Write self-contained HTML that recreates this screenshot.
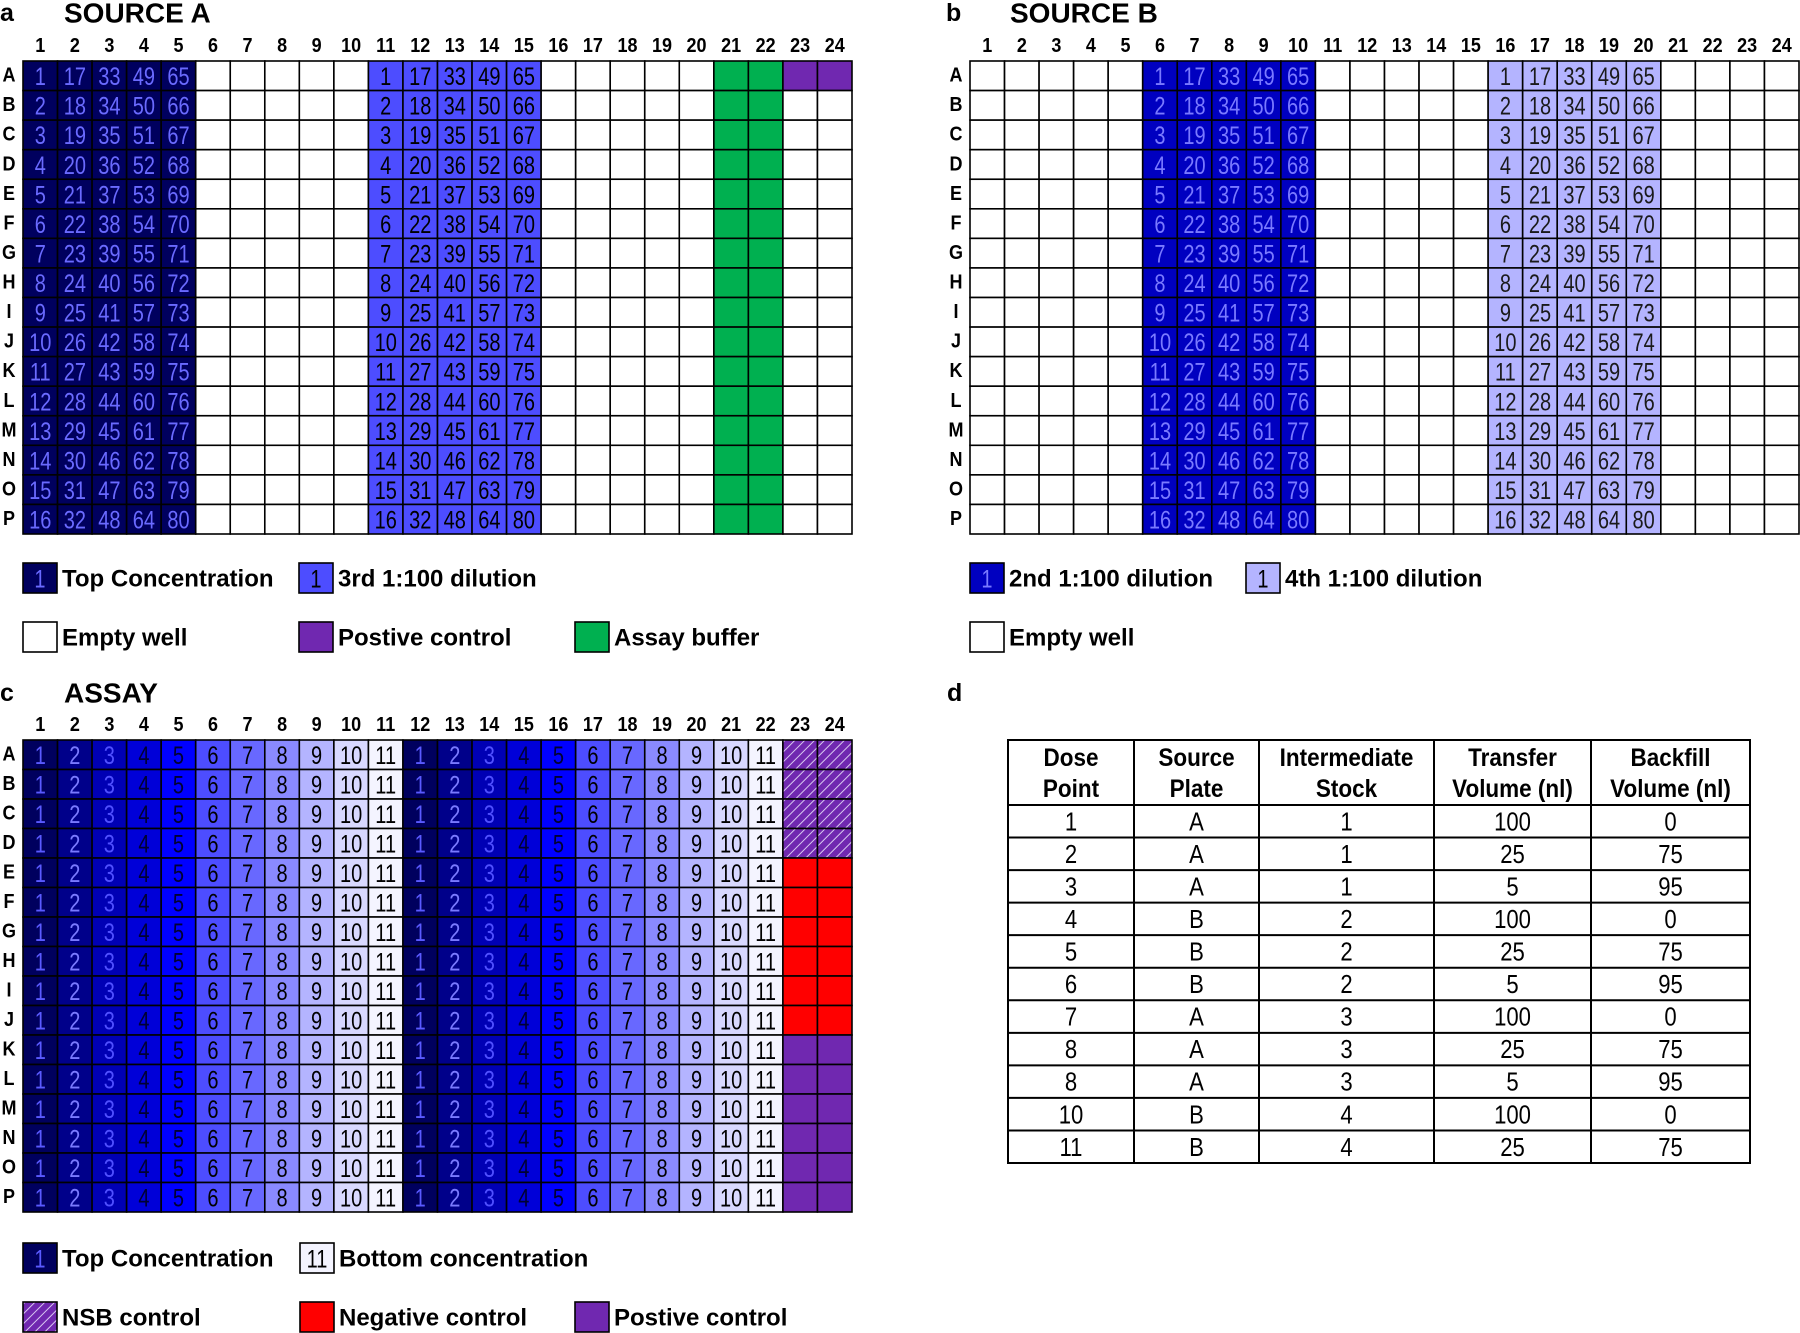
<!DOCTYPE html>
<html><head><meta charset="utf-8">
<style>
html,body{margin:0;padding:0;background:#fff;}
svg{display:block;font-family:"Liberation Sans",Arial,sans-serif;}
</style></head>
<body>
<svg id="fig" width="1800" height="1333" viewBox="0 0 1800 1333" xmlns="http://www.w3.org/2000/svg">
<defs>
<pattern id="hatch" patternUnits="userSpaceOnUse" width="7" height="7" patternTransform="rotate(45)">
<rect width="7" height="7" fill="#7028b0"/><line x1="0" y1="0" x2="0" y2="7" stroke="#d8c8f0" stroke-width="2"/>
</pattern>
</defs>
<g id="root"></g>
</svg>
<script>
// ---------- data ----------
const rowLabels = ["A","B","C","D","E","F","G","H","I","J","K","L","M","N","O","P"];
const colLabels = ["1","2","3","4","5","6","7","8","9","10","11","12","13","14","15","16","17","18","19","20","21","22","23","24"];
const sourceAColumnTypes = ["top","top","top","top","top","empty","empty","empty","empty","empty","dil3","dil3","dil3","dil3","dil3","empty","empty","empty","empty","empty","buffer","buffer","empty","empty"];
const sourceAPositiveWells = ["A23","A24"];
const sourceBColumnTypes = ["empty","empty","empty","empty","empty","dil2","dil2","dil2","dil2","dil2","empty","empty","empty","empty","empty","dil4","dil4","dil4","dil4","dil4","empty","empty","empty","empty"];
const compoundColumnStart = [1,17,33,49,65];
const assayDoses = [1,2,3,4,5,6,7,8,9,10,11,1,2,3,4,5,6,7,8,9,10,11];
const assayControlRows = ["nsb","nsb","nsb","nsb","neg","neg","neg","neg","neg","neg","pos","pos","pos","pos","pos","pos"];
const tableHeaders = [["Dose","Point"],["Source","Plate"],["Intermediate","Stock"],["Transfer","Volume (nl)"],["Backfill","Volume (nl)"]];
const dosePoints = ["1","2","3","4","5","6","7","8","8","10","11"];
const sourcePlates = ["A","A","A","B","B","B","A","A","A","B","B"];
const intermediateStocks = ["1","1","1","2","2","2","3","3","3","4","4"];
const transferVolumes = ["100","25","5","100","25","5","100","25","5","100","25"];
const backfillVolumes = ["0","75","95","0","75","95","0","75","95","0","75"];

// ---------- styles ----------
const typeFill = {top:"#00005e",dil3:"#4d4dff",dil2:"#0000c0",dil4:"#b4b4ff",buffer:"#00b050",pos:"#7028b0",neg:"#ff0000",nsb:"url(#hatch)",empty:"#ffffff"};
const typeText = {top:"#6a6aff",dil3:"#000000",dil2:"#7a7aff",dil4:"#1a1a1a"};
const doseFill = ["#00005e","#00008a","#0000b4","#0000d8","#0000ff","#4d4dff","#6868ff","#8a8aff","#b4b4ff","#d8d8ff","#f4f4ff"];
const doseText = ["#5a5aff","#7a7aff","#5050ff","#000033","#000033","#000000","#000000","#000000","#000000","#000000","#000000"];

const NS="http://www.w3.org/2000/svg";
const root=document.getElementById('root');
function mk(tag,attrs,parent){const e=document.createElementNS(NS,tag);for(const k in attrs)e.setAttribute(k,attrs[k]);(parent||root).appendChild(e);return e;}
function txt(str,x,y,size,weight,fill,parent,anchor,narrow){
  const t=mk('text',{x:0,y:0,'font-size':size,'font-weight':weight||'normal',fill:fill||'#000','text-anchor':anchor||'middle','dominant-baseline':'central',transform:`translate(${x},${y}) scale(${narrow||1},1)`},parent);
  t.textContent=str;return t;
}

function plate(x0,y0,w,h,cellFn,name){
  const g=mk('g',{});
  
  
  const cw=w/24,rh=h/16;
  colLabels.forEach((c,i)=>{const t=txt(c,x0+cw*(i+0.5),y0-15,20,'bold','#000',g,'middle',0.9);
    
    });
  rowLabels.forEach((r,j)=>{const t=txt(r,x0-14,y0+rh*(j+0.5),20,'bold','#000',g,'middle',0.9);
    
    });
  for(let j=0;j<16;j++)for(let i=0;i<24;i++){
    const c=cellFn(j,i);
    const r=mk('rect',{x:x0+cw*i,y:y0+rh*j,width:cw,height:rh,fill:c.fill,stroke:'#000','stroke-width':1.6},g);
    
    
    if(c.label){const t=txt(c.label,x0+cw*(i+0.5),y0+rh*(j+0.5)+1,25,'normal',c.color,g,'middle',0.8);
      
      }
  }
}
function sourceCell(types,pos){return (j,i)=>{
  const id=rowLabels[j]+colLabels[i];
  if(pos&&pos.includes(id))return{fill:typeFill.pos};
  const t=types[i];
  if(t==='empty'||t==='buffer')return{fill:typeFill[t]};
  let first=types.indexOf(t);
  return{fill:typeFill[t],label:String(compoundColumnStart[i-first]+j),color:typeText[t]};
};}
function assayCell(j,i){
  if(i<22){const d=assayDoses[i];return{fill:doseFill[d-1],label:String(d),color:doseText[d-1]};}
  return{fill:typeFill[assayControlRows[j]]};
}
function heading(letter,title,x,y){
  const a=txt(letter,x,y,25,'bold','#000',null,'start');
  const b=txt(title,x+64,y,28,'bold','#000',null,'start');
}
function legend(x,y,fill,label,text,color){
  const g=mk('g',{});
  
  
  mk('rect',{x:x,y:y-15,width:34,height:30,fill:fill,stroke:'#000','stroke-width':1.6},g);
  if(label)txt(label,x+17,y+1,25,'normal',color,g,'middle',0.8);
  txt(text,x+39,y+1,24,'bold','#000',g,'start');
}

heading('a','SOURCE A',0,13);
plate(23,61,829,473,sourceCell(sourceAColumnTypes,sourceAPositiveWells),'source-a-plate');
legend(23,578,typeFill.top,'1','Top Concentration',typeText.top);
legend(299,578,typeFill.dil3,'1','3rd 1:100 dilution','#000');
legend(23,637,'#fff','','Empty well');
legend(299,637,typeFill.pos,'','Postive control');
legend(575,637,typeFill.buffer,'','Assay buffer');

heading('b','SOURCE B',946,13);
plate(970,61,829,473,sourceCell(sourceBColumnTypes,null),'source-b-plate');
legend(970,578,typeFill.dil2,'1','2nd 1:100 dilution',typeText.dil2);
legend(1246,578,typeFill.dil4,'1','4th 1:100 dilution','#000');
legend(970,637,'#fff','','Empty well');

heading('c','ASSAY',0,693);
plate(23,740,829,472,assayCell,'assay-plate');
legend(23,1258,doseFill[0],'1','Top Concentration',doseText[0]);
legend(300,1258,doseFill[10],'11','Bottom concentration','#000');
legend(23,1317,'url(#hatch)','','NSB control');
legend(300,1317,typeFill.neg,'','Negative control');
legend(575,1317,typeFill.pos,'','Postive  control');

(function(){
  const d=txt('d',947,693,25,'bold','#000',null,'start');
  const g=mk('g',{});
  
  
  const xs=[1008,1134,1259,1434,1591,1750];
  const top=740,hb=805,rh=(1163-805)/11;
  const cols=[dosePoints,sourcePlates,intermediateStocks,transferVolumes,backfillVolumes];
  mk('rect',{x:xs[0],y:top,width:xs[5]-xs[0],height:1163-top,fill:'#fff',stroke:'#000','stroke-width':2},g);
  xs.slice(1,5).forEach(x=>mk('line',{x1:x,y1:top,x2:x,y2:1163,stroke:'#000','stroke-width':2},g));
  for(let r=0;r<=11;r++){const y=hb+rh*r;mk('line',{x1:xs[0],y1:y,x2:xs[5],y2:y,stroke:'#000','stroke-width':2},g);}
  tableHeaders.forEach((h,i)=>{const cx=(xs[i]+xs[i+1])/2;
    const a=txt(h[0],cx,top+18,25,'bold','#000',g,'middle',0.9);
    const b=txt(h[1],cx,top+49,25,'bold','#000',g,'middle',0.9);});
  cols.forEach((arr,i)=>{const cx=(xs[i]+xs[i+1])/2;
    arr.forEach((v,r)=>{const t=txt(v,cx,hb+rh*(r+0.5)+1,26,'normal','#000',g,'middle',0.85);
      
      });});
})();
</script>
</body></html>
